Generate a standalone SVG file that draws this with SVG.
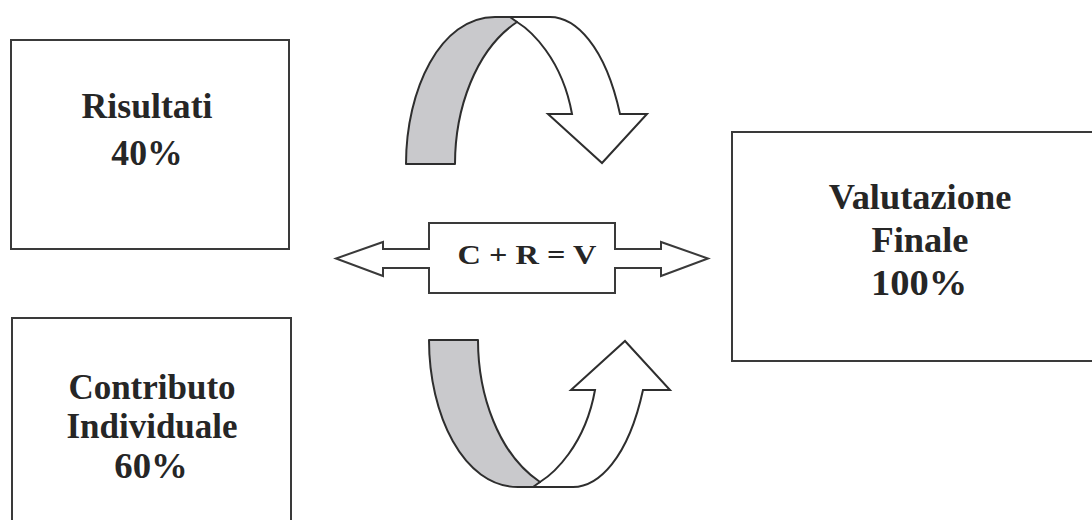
<svg xmlns="http://www.w3.org/2000/svg" width="1092" height="520" viewBox="0 0 1092 520">
<defs>
<style>
.box{fill:#fff;stroke:#3a3a3a;stroke-width:2}
.lbl{font-family:"Liberation Serif","Times New Roman",serif;font-weight:bold;fill:#262626;text-anchor:middle}
.band{fill:#c9c9cc;stroke:#2e2e2e;stroke-width:2;stroke-linejoin:round}
.head{fill:#fff;stroke:#2e2e2e;stroke-width:2;stroke-linejoin:miter}
</style>
<g id="curvedArrow">
<path class="head" d="M495,17 L550,17 C575,17 605,45 620,114 L647,114 L602,163 L548,114 L572,114 C562,58 530,30 517,22 Z"/>
<path class="band" d="M406,164 C406,90 440,17 495,17 L510,17 L517,22 C475,50 455,110 455,164 Z"/>
</g>
</defs>
<rect width="1092" height="520" fill="#fff"/>

<g id="connectors">
<use href="#curvedArrow"/>
<use href="#curvedArrow" transform="translate(23,504) scale(1,-1)"/>
</g>

<g id="node-risultati">
<rect class="box" x="11" y="40" width="278" height="209"/>
<text class="lbl" font-size="35" transform="translate(147,118) scale(1.02,1)">Risultati</text>
<text class="lbl" font-size="35" transform="translate(147,165) scale(1.02,1)">40%</text>
</g>

<g id="node-contributo">
<rect class="box" x="12" y="318" width="279" height="220"/>
<text class="lbl" font-size="35" transform="translate(152,399) scale(1.0,1)">Contributo</text>
<text class="lbl" font-size="35" transform="translate(152,438) scale(1.0,1)">Individuale</text>
<text class="lbl" font-size="35" transform="translate(151,478) scale(1.05,1)">60%</text>
</g>

<g id="node-formula">
<path class="box" d="M429,223 L615,223 L615,249 L661,249 L661,242 L708,258.5 L661,276 L661,268 L615,268 L615,293 L429,293 L429,268 L383,268 L383,276 L336,258.5 L383,242 L383,249 L429,249 Z"/>
<text class="lbl" font-size="27" transform="translate(527,264) scale(1.2,1)">C + R = V</text>
</g>

<g id="node-valutazione">
<rect class="box" x="732" y="132" width="380" height="229"/>
<text class="lbl" font-size="35" transform="translate(920,209) scale(1.04,1)">Valutazione</text>
<text class="lbl" font-size="35" transform="translate(920,252) scale(1.04,1)">Finale</text>
<text class="lbl" font-size="35" transform="translate(919,295) scale(1.1,1)">100%</text>
</g>
</svg>
